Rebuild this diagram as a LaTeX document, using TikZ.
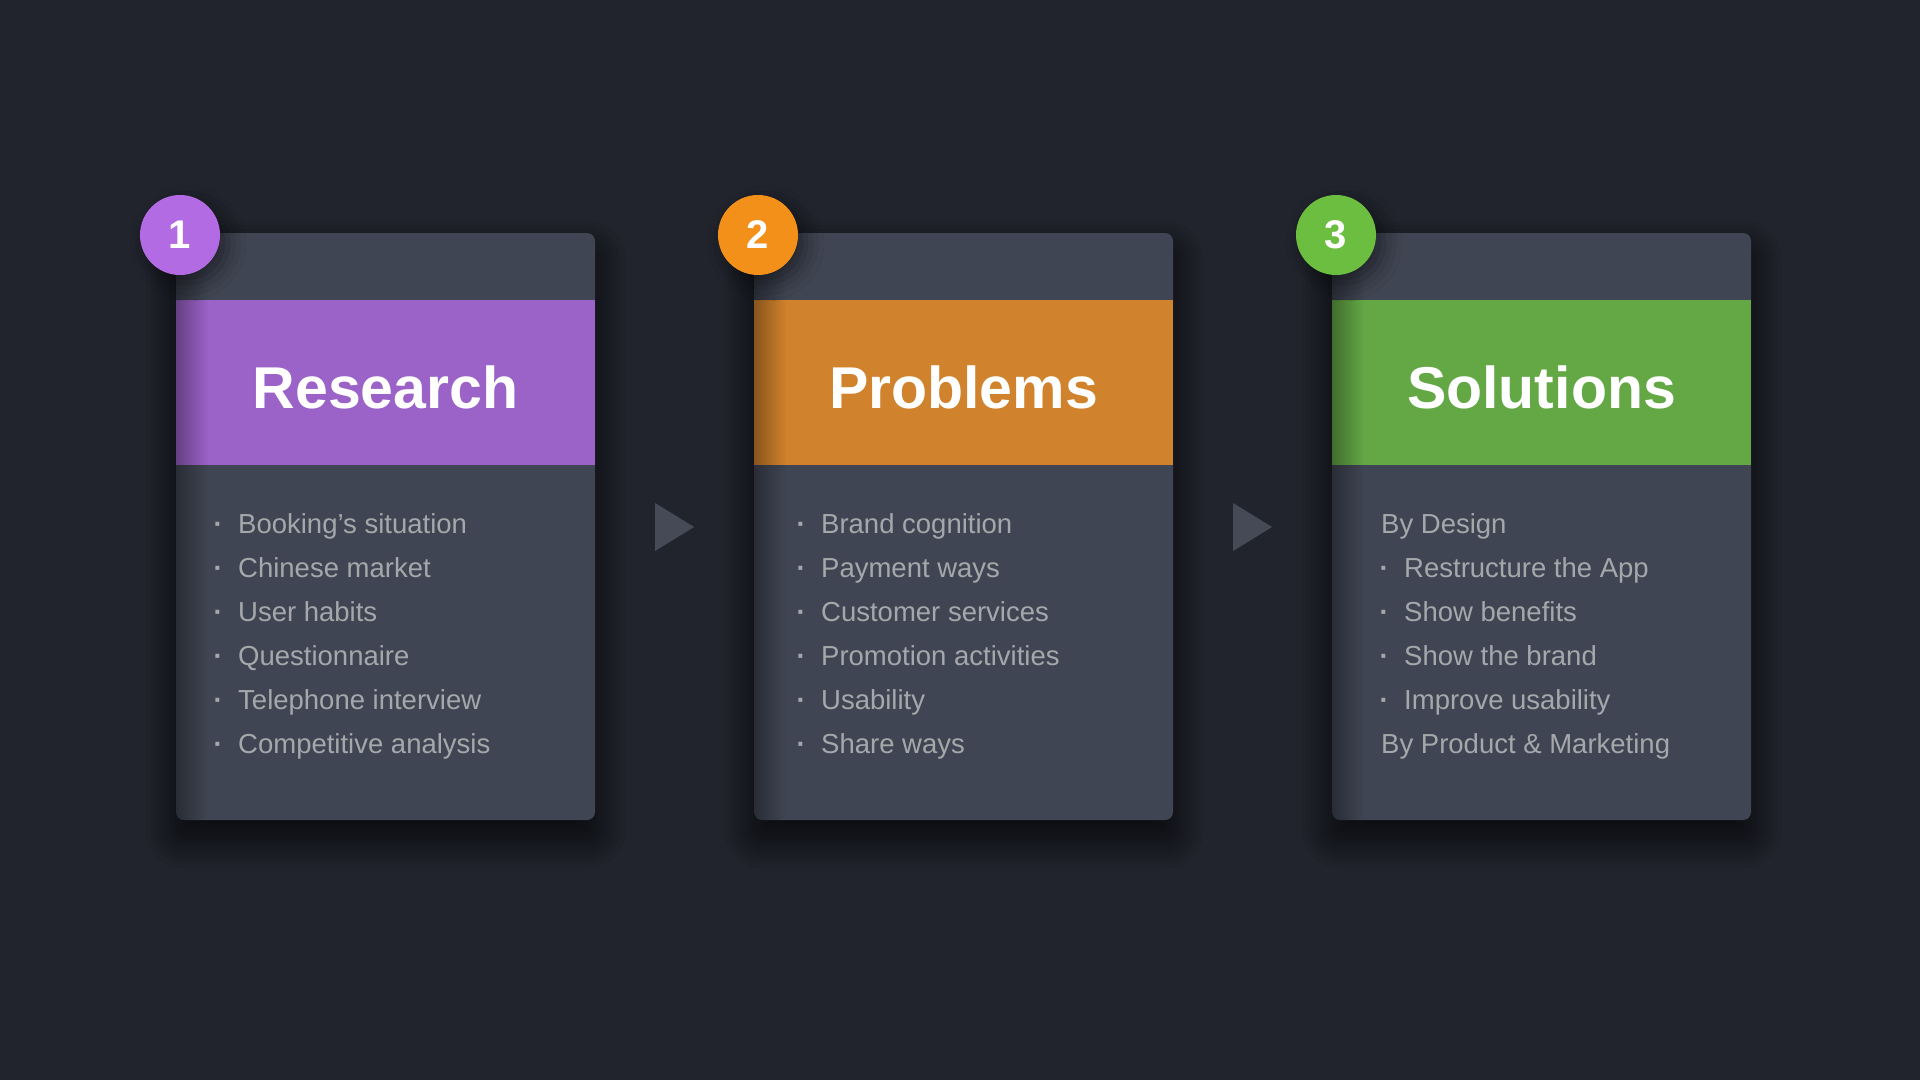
\documentclass[tikz,border=0pt]{standalone}
\usepackage{fontspec}
\setmainfont{Liberation Sans}
\usepackage{xcolor}
\usetikzlibrary{positioning, shapes.geometric, shadows.blur, fadings}

\definecolor{bgdark}{HTML}{21242D}
\definecolor{cardgray}{HTML}{404553}
\definecolor{itemgray}{HTML}{A5A8AB}
\definecolor{pointergray}{HTML}{464A56}
\definecolor{purpleband}{HTML}{9B62C8}
\definecolor{purplebadge}{HTML}{B26BE2}
\definecolor{orangeband}{HTML}{D0822C}
\definecolor{orangebadge}{HTML}{F2901A}
\definecolor{greenband}{HTML}{64A846}
\definecolor{greenbadge}{HTML}{6CBE40}

\newcommand{\bul}{\makebox[23pt][l]{\hspace{-1.5pt}\textbf{·}}}

\begin{document}
\begin{tikzpicture}[
    x=1pt, y=-1pt,
    card/.style={rectangle, rounded corners=8pt, fill=cardgray, minimum width=419pt, minimum height=587pt, inner sep=0pt,
        blur shadow={shadow xshift=0pt, shadow yshift=-10pt, shadow blur radius=90pt, shadow blur steps=30, shadow opacity=30},
        blur shadow={shadow xshift=0pt, shadow yshift=-18pt, shadow blur radius=30pt, shadow blur steps=20, shadow opacity=45}},
    band/.style={rectangle, minimum width=419pt, minimum height=165pt, inner sep=0pt},
    title/.style={inner sep=0pt, text=white, font=\fontsize{59}{59}\selectfont\bfseries},
    badge/.style={circle, minimum size=80pt, inner sep=0pt, text=white, font=\fontsize{40}{40}\selectfont\bfseries,
        blur shadow={shadow xshift=8pt, shadow yshift=-8pt, shadow blur radius=18pt, shadow opacity=45}},
    item/.style={anchor=base west, inner sep=0pt, text=itemgray, font=\fontsize{27.5}{33}\selectfont},
    pointer/.style={isosceles triangle, isosceles triangle stretches, fill=pointergray, minimum width=48pt, minimum height=39pt, inner sep=0pt},
    edgefade/.style={black, opacity=0.35, path fading=east, rounded corners=8pt}
]

% Background
\fill[bgdark] (0,0) rectangle (1920,1080);
\useasboundingbox (0,0) rectangle (1920,1080);

% Cards
\node[card] (research) at (385.5, 526.5) {};
\node[card] (problems) at (963.5, 526.5) {};
\node[card] (solutions) at (1541.5, 526.5) {};

% Coloured title bands
\node[band, fill=purpleband] (researchhead) at (385.5, 382.5) {};
\node[band, fill=orangeband] (problemshead) at (963.5, 382.5) {};
\node[band, fill=greenband] (solutionshead) at (1541.5, 382.5) {};

% Darker left edges
\foreach \c in {research, problems, solutions}
    \fill[edgefade] (\c.north west) rectangle ([xshift=32pt]\c.south west);

\node[title] (researchtitle) at (385.5, 387) {Research};
\node[title] (problemstitle) at (963.5, 387) {Problems};
\node[title] (solutionstitle) at (1541.5, 387) {Solutions};

% Step badges
\node[badge, fill=purplebadge] (one) at (180, 235) {1};
\node[badge, fill=orangebadge] (two) at (758, 235) {2};
\node[badge, fill=greenbadge] (three) at (1336, 235) {3};

% Pointers between cards
\node[pointer] (pointA) at (668.5, 527) {};
\node[pointer] (pointB) at (1246.5, 527) {};

% Research list
\foreach \txt [count=\i from 0] in {Booking’s situation, Chinese market, User habits, Questionnaire, Telephone interview, Competitive analysis}
    \node[item] (res\i) at (215, 533+44*\i) {\bul\txt};

% Problems list
\foreach \txt [count=\i from 0] in {Brand cognition, Payment ways, Customer services, Promotion activities, Usability, Share ways}
    \node[item] (prob\i) at (798, 533+44*\i) {\bul\txt};

% Solutions list
\node[item] (sol0) at (1381, 533) {By Design};
\foreach \txt [count=\i from 1] in {Restructure the App, Show benefits, Show the brand, Improve usability}
    \node[item] (sol\i) at (1381, 533+44*\i) {\bul\txt};
\node[item] (sol5) at (1381, 753) {By Product \& Marketing};

\end{tikzpicture}
\end{document}
